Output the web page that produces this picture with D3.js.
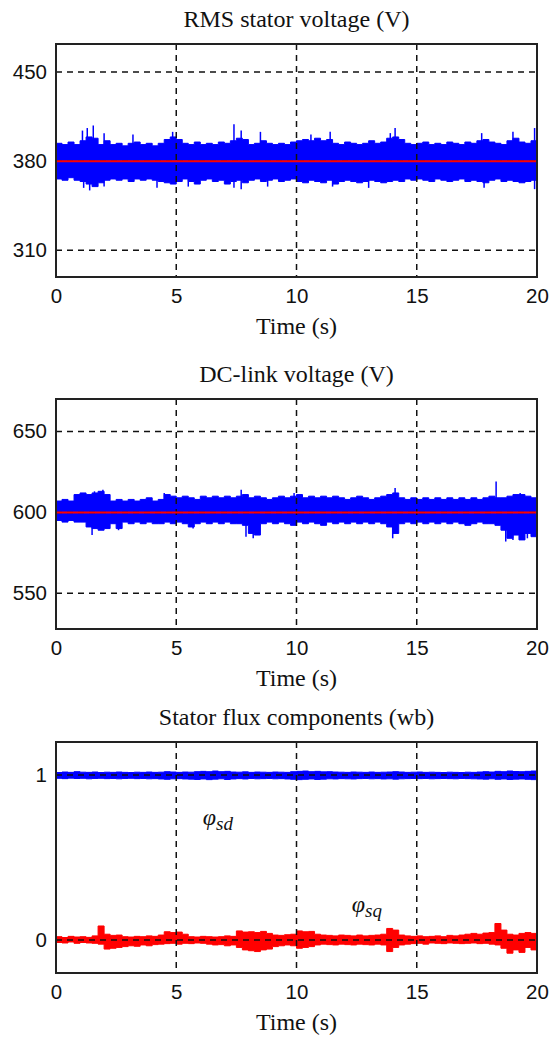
<!DOCTYPE html>
<html>
<head>
<meta charset="utf-8">
<script src="https://cdn.jsdelivr.net/npm/d3@7"></script>
<style>
  body { margin:0; background:#fff; }
  .tick text { font-family:"Liberation Sans", Arial, sans-serif; font-size:20.5px; fill:#111; }
  .ttl { font-family:"Liberation Serif", "Times New Roman", serif; font-size:24px; fill:#111; }
</style>
</head>
<body>
<div id="chart"></div>
<script>
// samples are every 0.25 s, from 0 to 20 s (81 samples)
let sampleStep = 0.25;
let timeTicks = [0,5,10,15,20];

// RMS stator voltage, envelope of the noisy band (V)
let rmsHi = [394,393,395,393,396,399,398,393,396,393,
             394,392,394,395,393,394,392,394,397,399,
             397,394,393,395,393,394,393,395,394,396,
             398,397,393,394,396,394,393,394,393,395,
             396,397,396,398,396,397,394,393,395,394,
             393,394,396,394,395,398,399,397,394,393,
             394,395,393,394,393,395,394,393,395,394,
             396,397,395,394,393,396,398,395,394,396,
             399];
let rmsLo = [366,365,367,365,364,362,360,363,365,366,
             365,366,364,366,365,366,365,364,363,362,
             364,366,364,362,365,366,364,365,362,364,
             365,363,365,366,364,365,366,364,365,366,
             364,363,365,364,363,365,362,364,365,364,
             363,364,365,364,363,364,365,364,366,365,
             366,365,364,366,365,364,365,366,364,365,
             364,363,365,366,364,365,364,363,364,365,
             362];
let rmsSpikes = [[1.1,404],[1.3,406],[1.55,408],[2.0,402],[3.2,401],[4.85,403],[7.4,409],[7.7,404],
                 [8.5,403],[10.6,401],[11.4,403],[13.9,402],[14.1,406],[17.7,402],[19.0,403],[19.9,406],
                 [1.15,359],[1.4,357],[2.0,360],[4.2,359],[5.5,360],[7.4,359],[7.7,358],[8.8,360],
                 [11.5,360],[13.0,359],[17.8,359],[19.9,358]];
let rmsRef = 380;

// DC-link voltage envelope (V)
let dcHi = [607,608,607,611,612,611,612,613,611,607,
            608,607,608,607,608,609,607,608,611,610,
            609,610,609,608,610,609,610,609,610,609,
            610,611,609,610,609,608,609,610,609,610,
            611,609,610,609,610,609,610,609,608,609,
            610,609,608,609,610,611,612,609,608,609,
            608,609,608,609,608,609,608,609,608,609,
            608,609,610,609,609,610,611,611,610,609,
            609];
let dcLo = [595,594,595,594,594,591,590,589,590,593,
            590,594,593,594,593,594,593,593,594,593,
            594,593,591,593,594,593,594,593,594,593,
            593,592,587,586,593,594,593,594,593,592,
            594,593,594,593,592,594,593,594,593,594,
            593,594,593,594,593,591,587,593,594,593,
            594,593,594,593,594,593,594,593,592,593,
            594,593,593,592,589,584,586,583,587,585,
            588];
let dcSpikes = [[1.6,613],[1.95,614],[4.5,612],[7.7,614],[9.9,612],[14.1,615],[18.3,619],[19.3,612],
                [1.5,586],[2.6,589],[5.7,590],[7.9,585],[8.2,584],[14.0,584],[18.7,582],[19.0,583],[19.6,584]];
let dcRef = 600;

// stator flux components (wb), d axis
let sdHi = [1.015,1.018,1.016,1.02,1.017,1.016,1.018,1.015,1.017,1.016,
            1.018,1.016,1.015,1.017,1.016,1.018,1.016,1.017,1.02,1.018,
            1.016,1.018,1.017,1.02,1.022,1.02,1.024,1.02,1.022,1.018,
            1.017,1.019,1.016,1.018,1.017,1.016,1.018,1.017,1.016,1.02,
            1.022,1.024,1.02,1.022,1.019,1.02,1.018,1.017,1.016,1.018,
            1.017,1.016,1.018,1.016,1.017,1.018,1.02,1.018,1.016,1.017,
            1.018,1.016,1.017,1.016,1.015,1.017,1.016,1.015,1.017,1.016,
            1.018,1.02,1.018,1.022,1.02,1.024,1.021,1.02,1.022,1.024,
            1.026];
let sdLo = [0.98,0.978,0.981,0.979,0.98,0.977,0.979,0.98,0.978,0.979,
            0.977,0.979,0.98,0.978,0.979,0.977,0.978,0.976,0.974,0.977,
            0.978,0.976,0.975,0.973,0.976,0.972,0.975,0.977,0.973,0.976,
            0.978,0.976,0.979,0.977,0.978,0.979,0.977,0.978,0.976,0.974,
            0.972,0.974,0.976,0.973,0.975,0.977,0.976,0.978,0.977,0.976,
            0.978,0.979,0.977,0.978,0.976,0.977,0.975,0.977,0.978,0.979,
            0.978,0.979,0.977,0.978,0.979,0.978,0.977,0.979,0.978,0.977,
            0.976,0.975,0.977,0.974,0.976,0.973,0.975,0.976,0.974,0.972,
            0.97];
// q axis
let sqHi = [0.02,0.015,0.022,0.018,0.02,0.016,0.025,0.085,0.035,0.028,
            0.03,0.02,0.018,0.022,0.02,0.025,0.022,0.03,0.05,0.045,
            0.048,0.035,0.02,0.018,0.022,0.02,0.018,0.02,0.025,0.022,
            0.055,0.048,0.05,0.045,0.052,0.04,0.03,0.028,0.032,0.035,
            0.055,0.05,0.052,0.035,0.03,0.028,0.025,0.03,0.028,0.025,
            0.03,0.025,0.028,0.03,0.035,0.07,0.06,0.03,0.025,0.022,
            0.025,0.02,0.022,0.025,0.02,0.028,0.025,0.03,0.035,0.04,
            0.035,0.042,0.045,0.1,0.06,0.035,0.03,0.04,0.045,0.04,
            0.035];
let sqLo = [-0.015,-0.018,-0.012,-0.02,-0.015,-0.018,-0.02,-0.025,-0.055,-0.05,
            -0.045,-0.04,-0.035,-0.038,-0.03,-0.035,-0.028,-0.025,-0.022,-0.02,
            -0.025,-0.02,-0.022,-0.018,-0.02,-0.025,-0.03,-0.028,-0.035,-0.03,
            -0.045,-0.06,-0.065,-0.07,-0.06,-0.055,-0.04,-0.035,-0.03,-0.035,
            -0.05,-0.045,-0.04,-0.03,-0.025,-0.028,-0.03,-0.025,-0.028,-0.03,
            -0.025,-0.028,-0.03,-0.025,-0.03,-0.07,-0.045,-0.03,-0.025,-0.022,
            -0.02,-0.025,-0.018,-0.02,-0.022,-0.018,-0.02,-0.022,-0.02,-0.018,
            -0.022,-0.02,-0.025,-0.03,-0.05,-0.08,-0.06,-0.075,-0.045,-0.06,
            -0.07];

let screen = {width:552, height:1041};
let plotX = {left:56, right:537};

let panels = [
  {title:"RMS stator voltage (V)", top:44, bottom:277, domain:[289,472], ticks:[310,380,450],
   bands:[{hi:rmsHi, lo:rmsLo, color:"#0000ff", center:rmsRef, spikes:rmsSpikes}], ref:rmsRef},
  {title:"DC-link voltage (V)", top:399, bottom:629, domain:[528,670], ticks:[550,600,650],
   bands:[{hi:dcHi, lo:dcLo, color:"#0000ff", center:dcRef, spikes:dcSpikes}], ref:dcRef},
  {title:"Stator flux components (wb)", top:742, bottom:973, domain:[-0.2,1.2], ticks:[0,1],
   bands:[{hi:sdHi, lo:sdLo, color:"#0000ff", center:1, spikes:[]},
          {hi:sqHi, lo:sqLo, color:"#ff0000", center:0, spikes:[]}], ref:null,
   labels:[{t:6.1, v:0.7, main:"φ", sub:"sd"}, {t:12.3, v:0.17, main:"φ", sub:"sq"}]}
];

let svg = d3.select("#chart").append("svg")
  .attr("width", screen.width)
  .attr("height", screen.height);

let xScale = d3.scaleLinear().domain([0,20]).range([plotX.left, plotX.right]);

let createPanel = function(p)
{
  let yScale = d3.scaleLinear().domain(p.domain).range([p.bottom, p.top]);
  let g = svg.append("g");

  // data bands
  p.bands.forEach(function(b)
  {
    let area = d3.area()
      .x(function(d,i){ return xScale(Math.min(i*sampleStep,20)); })
      .y0(function(d,i){ return yScale(b.lo[i]); })
      .y1(function(d,i){ return yScale(b.hi[i]); })
      .curve(d3.curveStepAfter);
    g.append("path").datum(b.hi)
      .attr("d", area)
      .attr("fill", b.color)
      .attr("stroke", b.color)
      .attr("stroke-width", 1);

    g.selectAll(null).data(b.spikes).enter().append("line")
      .attr("x1", function(d){ return xScale(d[0]); })
      .attr("x2", function(d){ return xScale(d[0]); })
      .attr("y1", yScale(b.center))
      .attr("y2", function(d){ return yScale(d[1]); })
      .attr("stroke", b.color)
      .attr("stroke-width", 1.5);
  });

  // grid on top of the data
  g.selectAll(null).data(timeTicks.slice(1,-1)).enter().append("line")
    .attr("x1", function(d){ return xScale(d); })
    .attr("x2", function(d){ return xScale(d); })
    .attr("y1", p.top).attr("y2", p.bottom)
    .attr("stroke", "#111").attr("stroke-width", 1.5)
    .attr("stroke-dasharray", "6,5");
  g.selectAll(null).data(p.ticks).enter().append("line")
    .attr("x1", plotX.left).attr("x2", plotX.right)
    .attr("y1", function(d){ return yScale(d); })
    .attr("y2", function(d){ return yScale(d); })
    .attr("stroke", "#111").attr("stroke-width", 1.5)
    .attr("stroke-dasharray", "6,5");

  if(p.ref !== null)
  {
    g.append("line")
      .attr("x1", plotX.left).attr("x2", plotX.right)
      .attr("y1", yScale(p.ref)).attr("y2", yScale(p.ref))
      .attr("stroke", "#ff0000").attr("stroke-width", 2);
  }

  // frame
  g.append("rect")
    .attr("x", plotX.left).attr("y", p.top)
    .attr("width", plotX.right-plotX.left).attr("height", p.bottom-p.top)
    .attr("fill", "none").attr("stroke", "#222").attr("stroke-width", 2);

  // axes (labels only)
  let xAxis = g.append("g")
    .attr("transform", "translate(0,"+p.bottom+")")
    .call(d3.axisBottom(xScale).tickValues(timeTicks).tickSize(0).tickPadding(11));
  xAxis.select(".domain").remove();

  let yAxis = g.append("g")
    .attr("transform", "translate("+plotX.left+",0)")
    .call(d3.axisLeft(yScale).tickValues(p.ticks).tickFormat(d3.format("d")).tickSize(0).tickPadding(9));
  yAxis.select(".domain").remove();

  g.append("text").attr("class","ttl")
    .attr("x", (plotX.left+plotX.right)/2).attr("y", p.top-17)
    .attr("text-anchor","middle").text(p.title);

  g.append("text").attr("class","ttl")
    .attr("x", (plotX.left+plotX.right)/2).attr("y", p.bottom+57)
    .attr("text-anchor","middle").text("Time (s)");

  if(p.labels)
  {
    p.labels.forEach(function(l)
    {
      let txt = g.append("text").attr("class","ttl")
        .attr("x", xScale(l.t)).attr("y", yScale(l.v))
        .attr("font-style","italic").attr("font-size","27px");
      txt.append("tspan").text(l.main);
      txt.append("tspan").attr("font-size","19px").attr("dy", 5).text(l.sub);
    });
  }
};

panels.forEach(createPanel);
</script>
</body>
</html>
